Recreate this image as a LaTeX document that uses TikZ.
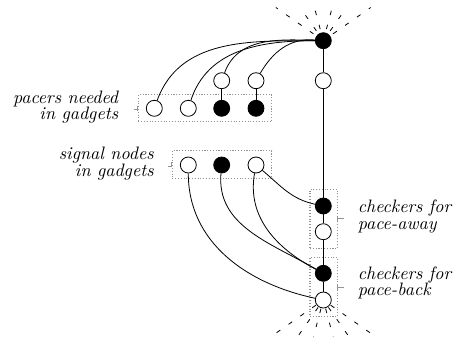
\documentclass[tikz,border=0pt]{standalone}
\begin{document}
\begin{tikzpicture}[x=1pt,y=-1pt,
 vtx/.style={circle,draw,line width=0.8pt,minimum size=16pt,inner sep=0pt},
 wht/.style={vtx,fill=white},
 blk/.style={vtx,fill=black},
 grp/.style={draw=gray!85,line width=1.1pt,dash pattern=on 1.1pt off 1.7pt,inner sep=0pt},
 lbl/.style={font=\fontsize{10}{12}\selectfont\itshape,scale=1.8,inner sep=0pt},
 lbltop/.style={lbl,text depth=0pt},
 lblbot/.style={lbl,text height=4.5pt},
 ray/.style={line width=0.8pt,dash pattern=on 4.5pt off 10pt},
 tick/.style={draw=gray!85,line width=0.8pt},
 edge/.style={line width=0.8pt}]
\useasboundingbox (0,0) rectangle (456,338);
% groups
\node[grp,minimum width=133.4pt,minimum height=27pt] (gp) at (205,108.2) {};
\node[grp,minimum width=99.4pt,minimum height=27.6pt] (gs) at (222,164.5) {};
\node[grp,minimum width=27.3pt,minimum height=59pt] (ga) at (323.65,218.8) {};
\node[grp,minimum width=27.3pt,minimum height=59.4pt] (gb) at (323.65,287) {};
% vertices
\node[blk] (top) at (323.3,40.7) {};
\node[wht] (v1) at (323.3,80.7) {};
\node[wht] (u3) at (221.7,80.7) {};
\node[wht] (u4) at (256,80.7) {};
\node[wht] (p1) at (154.3,108.3) {};
\node[wht] (p2) at (188.3,108.3) {};
\node[blk] (p3) at (221.7,108.3) {};
\node[blk] (p4) at (256,108.3) {};
\node[wht] (s1) at (188.3,165) {};
\node[blk] (s2) at (221.7,165) {};
\node[wht] (s3) at (256,165) {};
\node[blk] (a1) at (323.3,206) {};
\node[wht] (a2) at (323.3,231.7) {};
\node[blk] (b1) at (323.3,273.3) {};
\node[wht] (b2) at (323.3,300) {};
% edges
\draw[edge] (top) -- (v1) -- (a1) -- (a2) -- (b1) -- (b2);
\draw[edge] (u3) -- (p3);
\draw[edge] (u4) -- (p4);
\draw[edge] (top) to[out=180,in=70] (p1);
\draw[edge] (top) to[out=180,in=72] (p2);
\draw[edge] (top) to[out=178,in=70] (u3);
\draw[edge] (top) to[out=175,in=60] (u4);
\draw[edge] (s3) to[out=-40,in=168] (a1);
\draw[edge] (s3) to[out=-100,in=152] (b1);
\draw[edge] (s2) to[out=-95,in=150] (b1);
\draw[edge] (s1) to[out=-90,in=168] (b2);
% rays
\foreach \a in {35,55,75,105,125,145}
  \draw[ray] (top.center) ++(-\a:12) -- ++(-\a:{33.2/sin(\a)-12});
\foreach \a in {35,55,75,105,125,145}
  \draw[ray] (b2.center) ++(\a:9) -- ++(\a:{37/sin(\a)-9});
% ticks
\draw[tick] (gp.west) ++(0,-2.5) -- ++(0,5) (gp.west) ++(0,1.5) -- ++(-4,0);
\draw[tick] (gs.west) ++(0,-2.5) -- ++(0,5) (gs.west) ++(0,1.5) -- ++(-4,0);
\draw[tick] (ga.east) ++(0,-2.5) -- ++(0,5) (ga.east) -- ++(6,0);
\draw[tick] (gb.east) ++(0,-2.5) -- ++(0,5) (gb.east) -- ++(6,0);
% labels
\node[lbltop,anchor=base east] (lp1) at (118.5,103) {pacers needed};
\node[lblbot,anchor=base east] (lp2) at (118.5,119.5) {in gadgets};
\node[lbltop,anchor=base east] (ls1) at (154,159.5) {signal nodes};
\node[lblbot,anchor=base east] (ls2) at (154,176) {in gadgets};
\node[lbltop,anchor=base west] (la1) at (357.5,212.5) {checkers for};
\node[lblbot,anchor=base west] (la2) at (357.5,229) {pace-away};
\node[lbltop,anchor=base west] (lb1) at (357.5,279) {checkers for};
\node[lblbot,anchor=base west] (lb2) at (357.5,295.5) {pace-back};
\end{tikzpicture}
\end{document}
